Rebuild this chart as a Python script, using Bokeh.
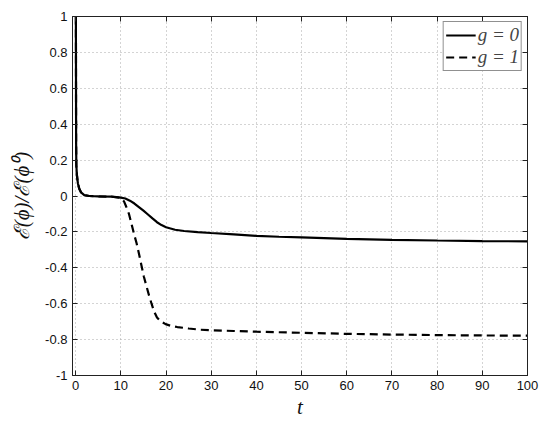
from bokeh.plotting import figure
from bokeh.models import LinearAxis, FixedTicker, Range1d, Legend, LegendItem
from bokeh.embed import file_html
from bokeh.resources import INLINE

# data
g0_t = [0.05, 0.1, 0.15, 0.3, 0.5, 0.8, 1.2, 1.9, 3, 5, 8, 10, 11, 12, 13, 14, 15, 16, 17, 18, 19, 20,
        22, 24, 27, 30, 35, 40, 45, 50, 60, 70, 80, 90, 100]
g0_e = [1.0, 0.3, 0.17, 0.11, 0.07, 0.04, 0.02, 0.005, 0.0, -0.002, -0.004, -0.009, -0.014, -0.026,
        -0.042, -0.062, -0.082, -0.103, -0.125, -0.146, -0.162, -0.174, -0.188, -0.195, -0.201, -0.206,
        -0.214, -0.222, -0.227, -0.231, -0.239, -0.244, -0.248, -0.251, -0.253]
g1_t = [0.05, 0.1, 0.15, 0.3, 0.5, 0.8, 1.2, 1.9, 3, 5, 8, 10, 10.7, 11.2, 11.8, 12.3, 12.9, 13.5, 14,
        14.5, 15.1, 15.7, 16.25, 16.8, 17.35, 18, 18.8, 19.9, 21, 22.5, 25, 27.6, 30, 35, 40, 50, 60,
        70, 80, 90, 100]
g1_e = [1.0, 0.3, 0.17, 0.11, 0.07, 0.04, 0.02, 0.005, 0.0, -0.002, -0.004, -0.01, -0.03, -0.06, -0.1,
        -0.15, -0.21, -0.265, -0.32, -0.38, -0.45, -0.505, -0.555, -0.6, -0.643, -0.677, -0.698, -0.714,
        -0.723, -0.73, -0.738, -0.745, -0.748, -0.752, -0.756, -0.762, -0.768, -0.772, -0.775, -0.777,
        -0.778]
x_ticks = [0, 10, 20, 30, 40, 50, 60, 70, 80, 90, 100]
y_ticks = [-1, -0.8, -0.6, -0.4, -0.2, 0, 0.2, 0.4, 0.6, 0.8, 1]
y_labels = ["-1", "-0.8", "-0.6", "-0.4", "-0.2", "0", "0.2", "0.4", "0.6", "0.8", "1"]
legend_labels = ["g = 0", "g = 1"]

p = figure(width=542, height=421, output_backend="svg", toolbar_location=None,
           x_range=Range1d(-0.7, 100), y_range=Range1d(-1, 1),
           min_border_left=72, min_border_right=15, min_border_top=16, min_border_bottom=39)
p.outline_line_color = "#222222"
p.outline_line_width = 1

tick_font = "Liberation Sans"
for ax in (p.xaxis[0], p.yaxis[0]):
    ax.major_tick_in = 5
    ax.major_tick_out = 0
    ax.minor_tick_in = 0
    ax.minor_tick_out = 0
    ax.axis_line_color = "#222222"
    ax.major_tick_line_color = "#222222"
    ax.major_label_text_font = tick_font
    ax.major_label_text_font_size = "13px"
    ax.major_label_text_color = "#111111"
    ax.axis_label_text_font = "Liberation Serif"
    ax.axis_label_text_font_style = "italic"
    ax.axis_label_text_font_size = "21px"
    ax.axis_label_text_color = "#111111"

p.xaxis[0].ticker = FixedTicker(ticks=x_ticks)
p.yaxis[0].ticker = FixedTicker(ticks=y_ticks)
p.yaxis[0].major_label_overrides = {v: s for v, s in zip(y_ticks, y_labels)}
p.xaxis[0].axis_label = "t"
p.xaxis[0].axis_label_standoff = 2
p.xaxis[0].major_label_standoff = 5
p.yaxis[0].axis_label = "ℰ(ϕ)/ℰ(ϕ⁰)"
p.yaxis[0].axis_label_standoff = 8
p.yaxis[0].major_label_standoff = 5

for loc, tk in (("above", x_ticks), ("right", y_ticks)):
    ax = LinearAxis(ticker=FixedTicker(ticks=tk), major_tick_in=5, major_tick_out=0,
                    minor_tick_in=0, minor_tick_out=0, major_label_text_font_size="0px",
                    major_label_standoff=0, axis_line_color="#222222",
                    major_tick_line_color="#222222")
    p.add_layout(ax, loc)

for g in (p.xgrid[0], p.ygrid[0]):
    g.grid_line_color = "#a8a8a8"
    g.grid_line_dash = "1 3"
    g.grid_line_width = 1
p.xgrid[0].ticker = FixedTicker(ticks=x_ticks)
p.ygrid[0].ticker = FixedTicker(ticks=y_ticks)

r0 = p.line(g0_t, g0_e, line_color="black", line_width=2.2)
r1 = p.line(g1_t, g1_e, line_color="black", line_width=2.2, line_dash="8 5")

legend = Legend(items=[LegendItem(label=legend_labels[0], renderers=[r0]),
                       LegendItem(label=legend_labels[1], renderers=[r1])],
                location="top_right", margin=5, padding=2, spacing=0,
                glyph_width=30, glyph_height=16, label_height=16, label_standoff=2,
                label_text_font="Liberation Serif", label_text_font_style="italic",
                label_text_font_size="19px", label_text_line_height=0.9,
                border_line_color="#222222", border_line_width=1,
                background_fill_color="white", background_fill_alpha=1.0)
p.add_layout(legend)

open("out.html", "w").write(file_html(p, INLINE))
